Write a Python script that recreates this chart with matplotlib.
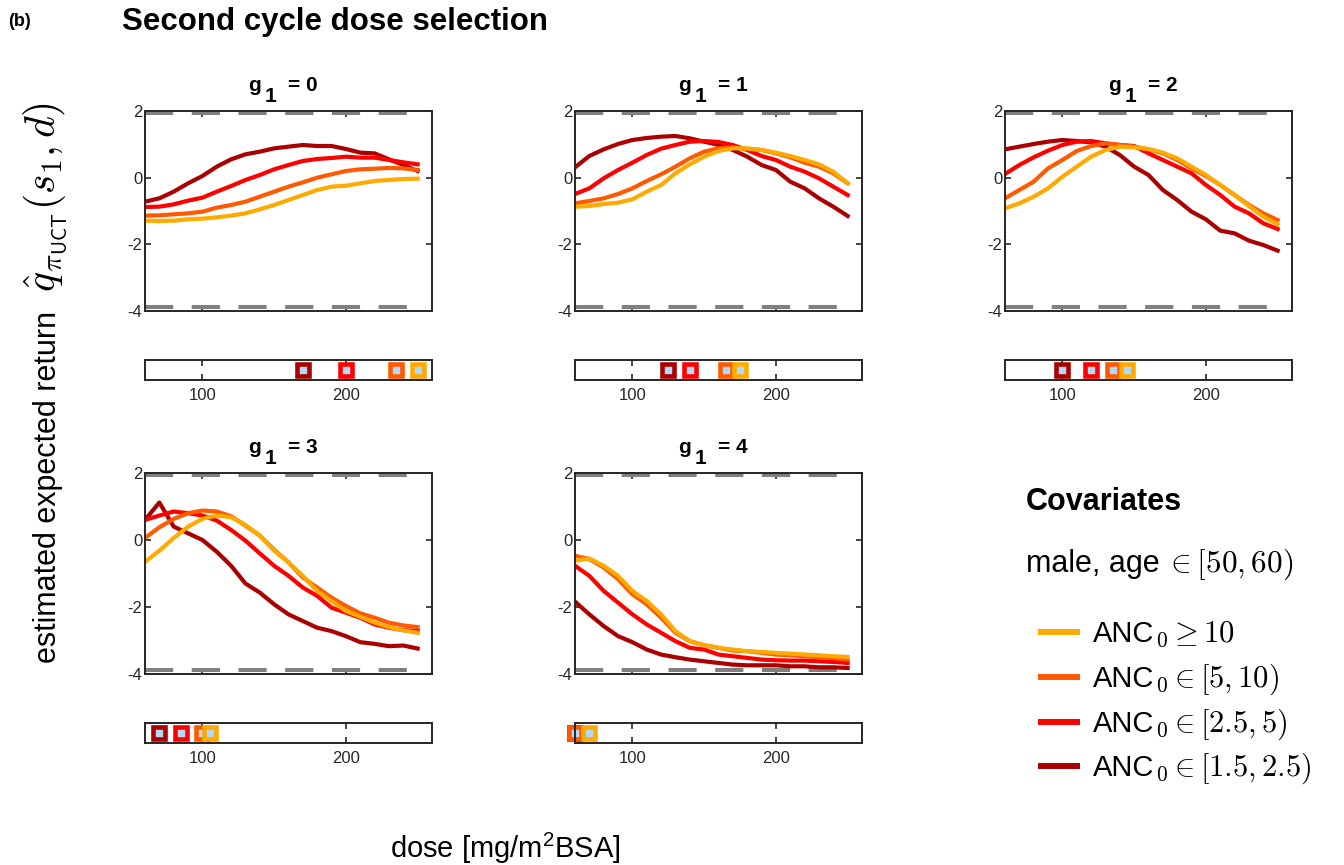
import numpy as np
import matplotlib
matplotlib.use('Agg')
import matplotlib.pyplot as plt
from matplotlib.lines import Line2D

plt.rcParams['font.family'] = ['Liberation Sans', 'DejaVu Sans']
plt.rcParams['mathtext.fontset'] = 'custom'
plt.rcParams['mathtext.rm'] = 'Liberation Sans'
plt.rcParams['mathtext.bf'] = 'Liberation Sans:bold'
plt.rcParams['mathtext.it'] = 'Liberation Sans:italic'
plt.rcParams['mathtext.sf'] = 'Liberation Sans'

# ---- data ----
dose = [60, 70, 80, 90, 100, 110, 120, 130, 140, 150,
        160, 170, 180, 190, 200, 210, 220, 230, 240, 250]

groups = ['ANC10', 'ANC5', 'ANC25', 'ANC15']
label_math = [r'${}_0 \geq 10$', r'${}_0 \in [5, 10)$',
              r'${}_0 \in [2.5, 5)$', r'${}_0 \in [1.5, 2.5)$']
colors = ['#FFAA00', '#FF5A00', '#FF0000', '#AA0000']

# g1 = 0
g0_anc10 = [-1.29, -1.30, -1.29, -1.25, -1.23, -1.19, -1.14, -1.07, -0.95, -0.82,
            -0.67, -0.52, -0.37, -0.27, -0.24, -0.17, -0.10, -0.07, -0.04, -0.03]
g0_anc5 = [-1.14, -1.13, -1.10, -1.07, -1.02, -0.90, -0.82, -0.72, -0.57, -0.42,
           -0.27, -0.14, 0.00, 0.10, 0.20, 0.25, 0.27, 0.29, 0.28, 0.23]
g0_anc25 = [-0.88, -0.87, -0.80, -0.69, -0.60, -0.42, -0.25, -0.07, 0.08, 0.25,
            0.38, 0.50, 0.56, 0.59, 0.63, 0.60, 0.60, 0.53, 0.46, 0.40]
g0_anc15 = [-0.72, -0.62, -0.42, -0.17, 0.05, 0.33, 0.55, 0.70, 0.78, 0.88,
            0.93, 0.98, 0.95, 0.95, 0.86, 0.75, 0.73, 0.55, 0.38, 0.20]

# g1 = 1
g1_anc10 = [-0.87, -0.85, -0.79, -0.75, -0.65, -0.42, -0.22, 0.13, 0.40, 0.63,
            0.80, 0.88, 0.88, 0.83, 0.75, 0.65, 0.53, 0.40, 0.18, -0.17]
g1_anc5 = [-0.77, -0.70, -0.62, -0.49, -0.32, -0.10, 0.10, 0.33, 0.58, 0.78,
           0.88, 0.91, 0.86, 0.83, 0.73, 0.61, 0.45, 0.33, 0.13, -0.17]
g1_anc25 = [-0.49, -0.32, -0.02, 0.23, 0.45, 0.68, 0.87, 0.98, 1.08, 1.10,
            1.07, 0.98, 0.83, 0.65, 0.53, 0.33, 0.18, -0.02, -0.27, -0.52]
g1_anc15 = [0.31, 0.65, 0.85, 1.01, 1.13, 1.19, 1.23, 1.25, 1.18, 1.08,
            0.98, 0.83, 0.63, 0.38, 0.23, -0.12, -0.32, -0.62, -0.87, -1.15]

# g1 = 2
g2_anc10 = [-0.92, -0.77, -0.57, -0.32, 0.03, 0.33, 0.63, 0.83, 0.93, 0.91,
            0.86, 0.75, 0.58, 0.33, 0.08, -0.22, -0.52, -0.85, -1.17, -1.40]
g2_anc5 = [-0.62, -0.37, -0.12, 0.28, 0.53, 0.80, 0.95, 1.03, 0.98, 0.93,
           0.85, 0.73, 0.53, 0.28, 0.05, -0.22, -0.52, -0.82, -1.07, -1.27]
g2_anc25 = [0.11, 0.38, 0.61, 0.81, 0.98, 1.08, 1.10, 1.03, 0.98, 0.95,
            0.73, 0.53, 0.33, 0.13, -0.22, -0.52, -0.87, -1.07, -1.37, -1.54]
g2_anc15 = [0.85, 0.93, 1.01, 1.08, 1.13, 1.10, 1.06, 0.93, 0.68, 0.33,
            0.08, -0.37, -0.67, -1.02, -1.25, -1.59, -1.67, -1.89, -2.02, -2.19]

# g1 = 3
g3_anc10 = [-0.65, -0.32, 0.06, 0.40, 0.63, 0.73, 0.68, 0.45, 0.13, -0.32,
            -0.67, -1.07, -1.52, -1.82, -2.12, -2.29, -2.47, -2.60, -2.70, -2.77]
g3_anc5 = [0.06, 0.38, 0.63, 0.80, 0.88, 0.85, 0.71, 0.43, 0.13, -0.29,
           -0.67, -1.12, -1.42, -1.72, -1.97, -2.19, -2.32, -2.47, -2.55, -2.60]
g3_anc25 = [0.60, 0.73, 0.85, 0.80, 0.73, 0.58, 0.30, -0.02, -0.40, -0.77,
            -1.07, -1.42, -1.67, -2.02, -2.17, -2.32, -2.52, -2.62, -2.69, -2.72]
g3_anc15 = [0.60, 1.12, 0.40, 0.20, 0.00, -0.35, -0.77, -1.30, -1.57, -1.92,
            -2.22, -2.42, -2.62, -2.72, -2.87, -3.05, -3.10, -3.17, -3.15, -3.24]

# g1 = 4
g4_anc10 = [-0.62, -0.55, -0.77, -1.07, -1.52, -1.82, -2.22, -2.72, -3.02, -3.14,
            -3.22, -3.27, -3.32, -3.34, -3.37, -3.39, -3.42, -3.44, -3.47, -3.49]
g4_anc5 = [-0.47, -0.57, -0.82, -1.17, -1.62, -1.92, -2.32, -2.77, -3.02, -3.14,
           -3.22, -3.30, -3.32, -3.37, -3.42, -3.44, -3.47, -3.50, -3.52, -3.57]
g4_anc25 = [-0.77, -1.07, -1.52, -1.87, -2.22, -2.52, -2.77, -3.02, -3.22, -3.27,
            -3.42, -3.47, -3.52, -3.57, -3.59, -3.60, -3.60, -3.62, -3.64, -3.67]
g4_anc15 = [-1.84, -2.22, -2.57, -2.87, -3.05, -3.27, -3.42, -3.50, -3.57, -3.62,
            -3.67, -3.72, -3.74, -3.74, -3.74, -3.77, -3.77, -3.80, -3.80, -3.82]

curves = [
    [g0_anc10, g0_anc5, g0_anc25, g0_anc15],
    [g1_anc10, g1_anc5, g1_anc25, g1_anc15],
    [g2_anc10, g2_anc5, g2_anc25, g2_anc15],
    [g3_anc10, g3_anc5, g3_anc25, g3_anc15],
    [g4_anc10, g4_anc5, g4_anc25, g4_anc15],
]

# selected (best) dose per covariate group, same order as groups
best_dose = [
    [250, 235, 200, 170],
    [175, 165, 140, 125],
    [145, 135, 120, 100],
    [105, 100, 85, 70],
    [70, 60, 60, 60],
]

upper_bound = 1.95
lower_bound = -3.89

# ---- layout ----
W, H = 1344, 865
fig = plt.figure(figsize=(W / 100, H / 100), dpi=100)


def fx(px):
    return px / W


def fy(py):
    return 1 - py / H


col_x = [145, 575, 1005]
main_w = 287
rows = [(111, 311, 360, 380), (473, 674, 723, 743)]
positions = [(0, 0), (0, 1), (0, 2), (1, 0), (1, 1)]

spine_c = '#262626'

for k, (r, c) in enumerate(positions):
    top, bot, stop, sbot = rows[r]
    x0 = col_x[c]
    mh = bot - top
    ax = fig.add_axes([fx(x0), fy(bot), main_w / W, mh / H])
    sx = fig.add_axes([fx(x0), fy(sbot), main_w / W, (sbot - stop) / H])

    for yb in (upper_bound, lower_bound):
        ax.plot([dose[0], dose[-1]], [yb, yb], color='#808080', lw=2.9,
                linestyle=(0, (7.0, 4.6)))

    # darkest first so the lighter groups sit on top
    for i in reversed(range(4)):
        ax.plot(dose, curves[k][i], color=colors[i], lw=3.0, solid_joinstyle='round')
        sx.plot([best_dose[k][i]], [0.5], marker='s', ms=8.6, mew=3.3,
                mec=colors[i], mfc='#B5D9F5', clip_on=False, ls='none')

    ax.set_xlim(60, 260)
    ax.set_ylim(-4, 2)
    ax.set_yticks([-4, -2, 0, 2])
    ax.set_yticklabels(['-4', '-2', '0', '2'])
    ax.set_xticks([100, 200])
    ax.set_xticklabels([])
    ax.tick_params(direction='in', top=True, right=True, length=4, width=1.2,
                   colors=spine_c, labelsize=12, pad=2)

    # panel title "g_1 = k" (subscript at full size, MATLAB style)
    tkw = dict(transform=ax.transAxes, fontsize=15, fontweight='bold',
               va='baseline', ha='left')
    ax.text(103 / main_w, 1 + 20 / mh, 'g', **tkw)
    ax.text(120 / main_w, 1 + 9 / mh, '1', **tkw)
    ax.text(143 / main_w, 1 + 20 / mh, '= %d' % k, **tkw)

    sx.set_xlim(60, 260)
    sx.set_ylim(0, 1)
    sx.set_yticks([])
    sx.set_xticks([100, 200])
    sx.tick_params(direction='in', top=True, length=4, width=1.2,
                   colors=spine_c, labelsize=12, pad=6)

    for a in (ax, sx):
        for s in a.spines.values():
            s.set_color(spine_c)
            s.set_linewidth(1.4)

# ---- texts ----
fig.text(fx(8), fy(22), '(b)', fontsize=13, fontweight='bold', va='center')
fig.text(fx(122), fy(22), 'Second cycle dose selection', fontsize=22.5,
         fontweight='bold', va='center')

# y label: sans text + larger LaTeX-style math (as MATLAB renders it)
fig.text(fx(56), fy(663), 'estimated expected return', rotation=90,
         rotation_mode='anchor', ha='left', va='baseline', fontsize=22)
fig.text(fx(56), fy(292), r'$\hat{q}_{\pi_{\mathsf{UCT}}}(s_1, d)$', rotation=90,
         rotation_mode='anchor', ha='left', va='baseline', fontsize=30,
         math_fontfamily='cm')

fig.text(fx(505), fy(848), r'dose [mg/m$^2$BSA]', fontsize=21,
         ha='center', va='center')

# covariates block
fig.text(fx(1026), fy(510), 'Covariates', fontsize=22, fontweight='bold',
         va='baseline')
fig.text(fx(1026), fy(572), 'male, age', fontsize=22, va='baseline')
fig.text(fx(1165), fy(572), r'$\in [50, 60)$', fontsize=22.5, va='baseline',
         math_fontfamily='cm')

leg_base = [642, 687, 732, 776]
for i in range(4):
    yb = leg_base[i]
    fig.add_artist(Line2D([fx(1041), fx(1077)], [fy(yb - 10), fy(yb - 10)],
                          color=colors[i], lw=4.3, transform=fig.transFigure))
    fig.text(fx(1093), fy(yb), 'ANC', fontsize=21, va='baseline')
    fig.text(fx(1155), fy(yb), label_math[i], fontsize=22, va='baseline',
             math_fontfamily='cm')

fig.savefig('out.png', dpi=100)
